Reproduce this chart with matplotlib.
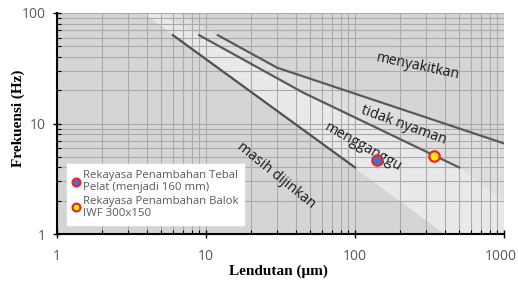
import matplotlib
matplotlib.use("Agg")
import matplotlib.pyplot as plt
import matplotlib.transforms as mtransforms
from matplotlib.ticker import LogLocator, NullFormatter, FixedLocator, FixedFormatter

# boundary lines (lendutan um, frekuensi Hz)
line1_x = [6, 100]
line1_y = [63, 4]
line2_x = [9, 45, 500]
line2_y = [63, 19, 4]
line3_x = [12, 30, 1000]
line3_y = [63, 32, 6.6]

# background shading zones (polygon corners)
zone_mid_x = [3.8, 400, 1000, 1000, 30, 12, 6.4]
zone_mid_y = [100, 1, 1, 6.6, 32, 63, 100]
zone_light_x = [3.8, 400, 1000, 1000, 500, 45, 9, 4.8]
zone_light_y = [100, 1, 1, 2, 4, 19, 63, 100]

# measured points
pelat_x, pelat_y = [140], [4.7]
balok_x, balok_y = [340], [5.1]

zone_labels = ["menyakitkan", "tidak nyaman", "mengganggu", "masih dijinkan"]
label_x = [265, 212, 113, 29.5]
label_y = [33, 9.7, 6.1, 3.42]
label_rot = [-12, -20, -29, -39]

xticks = [1, 10, 100, 1000]
yticks = [1, 10, 100]

fig = plt.figure(figsize=(5.18, 2.82), dpi=100)
ax = fig.add_axes([57/518, 1-234/282, (504-57)/518, (234-13)/282])
ax.set_xscale("log")
ax.set_yscale("log")
ax.set_xlim(1, 1000)
ax.set_ylim(1, 100)
ax.set_facecolor("#d5d5d5")

ax.fill(zone_mid_x, zone_mid_y, color="#dfdfdf", lw=0, zorder=0)
ax.fill(zone_light_x, zone_light_y, color="#e9e9e9", lw=0, zorder=0)

ax.grid(True, which="both", color="#ababab", lw=0.8, zorder=1)
ax.set_axisbelow(True)

lc = "#5a5a5a"
ax.plot(line1_x, line1_y, color="#505050", lw=1.6, zorder=3)
ax.plot(line2_x, line2_y, color=lc, lw=1.6, zorder=3)
ax.plot(line3_x, line3_y, color=lc, lw=1.6, zorder=3)

for t, x, y, r in zip(zone_labels, label_x, label_y, label_rot):
    ax.text(x, y, t, rotation=r, ha="center", va="center", fontsize=10.2,
            family="Open Sans", color="#1a1a1a", zorder=4)

ax.plot(pelat_x, pelat_y, "o", ms=7.5, mfc="#4a6fc8", mec="#e8262a", mew=1.6,
        zorder=5, label="Rekayasa Penambahan Tebal\nPelat (menjadi 160 mm)")
ax.plot(balok_x, balok_y, "o", ms=7.5, mfc="#ffee00", mec="#e8262a", mew=1.6,
        zorder=5, label="Rekayasa Penambahan Balok\nIWF 300x150")

leg = ax.legend(loc="upper left", bbox_to_anchor=(67/518, 1-164/282),
                bbox_transform=fig.transFigure, borderaxespad=0,
                prop={"family": "Open Sans", "size": 8.2}, labelcolor="#595959",
                frameon=True, fancybox=False, framealpha=1, edgecolor="white",
                handlelength=0.6, handletextpad=0.3, borderpad=0.5,
                labelspacing=0.2, markerscale=0.75)
leg.set_zorder(6)

for s in ["top", "right"]:
    ax.spines[s].set_visible(False)
for s in ["left", "bottom"]:
    ax.spines[s].set_color("black")
    ax.spines[s].set_linewidth(1.5)

ax.xaxis.set_major_locator(FixedLocator(xticks))
ax.xaxis.set_major_formatter(FixedFormatter([str(v) for v in xticks]))
ax.yaxis.set_major_locator(FixedLocator(yticks))
ax.yaxis.set_major_formatter(FixedFormatter([str(v) for v in yticks]))
ax.xaxis.set_minor_locator(LogLocator(base=10, subs=range(2, 10)))
ax.yaxis.set_minor_locator(LogLocator(base=10, subs=range(2, 10)))
ax.xaxis.set_minor_formatter(NullFormatter())
ax.yaxis.set_minor_formatter(NullFormatter())
ax.tick_params(which="major", direction="inout", length=6, width=1, color="black",
               labelcolor="#595959", labelsize=10)
ax.tick_params(which="minor", direction="in", length=3, width=0.8, color="black")
ax.tick_params(axis="x", which="major", pad=8)
ax.tick_params(axis="y", which="major", pad=5)
for lab in ax.get_xticklabels() + ax.get_yticklabels():
    lab.set_family("Open Sans")
# last x label sits against the right edge, as in the source
last = ax.get_xticklabels()[-1]
last.set_horizontalalignment("right")
last.set_transform(last.get_transform() +
                   mtransforms.ScaledTranslation(13/100, 0, fig.dpi_scale_trans))

fig.text(278/518, 1-271/282, "Lendutan (\u03bcm)", ha="center", va="center",
         family="Liberation Serif", fontweight="bold", fontsize=11)
fig.text(18/518, 1-118/282, "Frekuensi (Hz)", ha="center", va="center",
         rotation=90, family="Liberation Serif", fontweight="bold", fontsize=11)

fig.savefig("out.png", dpi=100)
